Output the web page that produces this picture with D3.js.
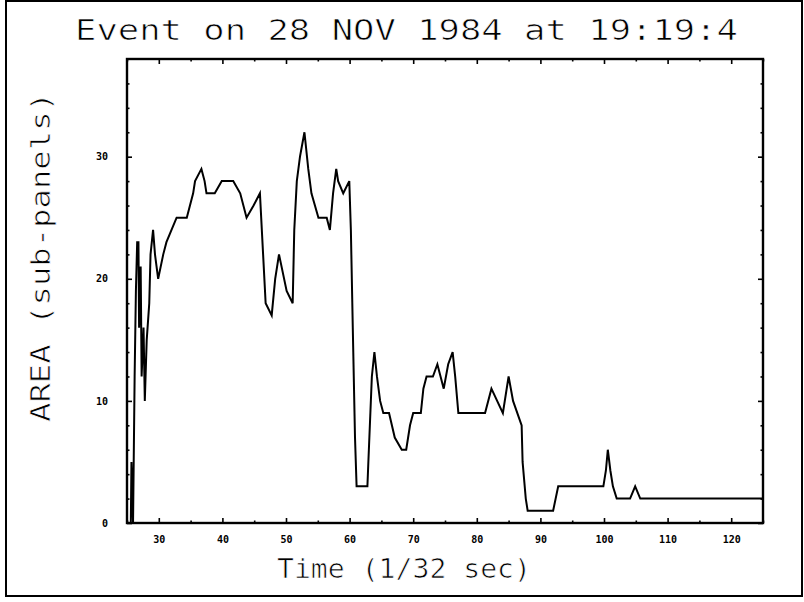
<!DOCTYPE html>
<html>
<head>
<meta charset="utf-8">
<script src="https://cdn.jsdelivr.net/npm/d3@7"></script>
<style>
  html, body { margin: 0; padding: 0; background: #fff; }
  svg { display: block; }
  text { font-family: "DejaVu Sans Mono", monospace; fill: #000; }
</style>
</head>
<body>
<script>
// ---- data ----
const times = [25.6, 25.7, 25.95, 26.2, 26.4, 26.6, 26.8, 26.9, 27.15, 27.3, 27.6, 27.8, 28.1, 28.5, 28.7, 29.1, 29.4, 29.9, 30.7, 31.2,
  32.0, 32.8, 34.4, 35.4, 35.7, 36.7, 37.2, 37.5, 38.8, 39.9, 41.7, 42.8, 43.8, 44.9, 45.9, 46.4, 46.8, 47.75, 48.3, 48.9,
  50.1, 51.05, 51.3, 51.7, 52.2, 52.9, 53.5, 54.0, 55.1, 56.4, 56.9, 57.4, 57.9, 58.2, 59.0, 59.95, 60.2, 60.5, 60.85, 61.1,
  62.8, 62.95, 63.5, 63.9, 64.3, 64.8, 65.3, 66.2, 67.1, 68.2, 68.9, 69.5, 70.0, 71.2, 71.6, 72.1, 73.1, 73.8, 74.8, 75.5,
  76.2, 76.6, 77.1, 81.3, 82.3, 84.1, 85.0, 85.7, 87.05, 87.2, 87.7, 88.0, 92.0, 92.8, 99.9, 100.3, 100.6, 101.0, 101.4, 102.0,
  104.1, 104.9, 105.7, 125.0];
const areas = [0, 5, 0, 12, 19, 23, 23, 16, 21, 12, 16, 10, 15, 18, 22, 24, 22, 20, 22, 23,
  24, 25, 25, 27, 28, 29, 28, 27, 27, 28, 28, 27, 25, 26, 27, 22, 18, 17, 20, 22,
  19, 18, 24, 28, 30, 32, 29, 27, 25, 25, 24, 27, 29, 28, 27, 28, 24, 16, 7, 3,
  3, 5, 12, 14, 12, 10, 9, 9, 7, 6, 6, 8, 9, 9, 11, 12, 12, 13, 11, 13,
  14, 12, 9, 9, 11, 9, 12, 10, 8, 5, 2, 1, 1, 3, 3, 4.3, 6, 4.3, 3, 2,
  2, 3, 2, 2];
const xMajorTicks = [30, 40, 50, 60, 70, 80, 90, 100, 110, 120];
const yMajorTicks = [0, 10, 20, 30];
const titleText = "Event on 28 NOV 1984 at 19:19:4";
const xLabelText = "Time (1/32 sec)";
const yLabelText = "AREA (sub-panels)";

// ---- layout ----
const W = 804, H = 602;
const plot = { left: 127, right: 763, top: 59, bottom: 523 };

const svg = d3.select("body").append("svg").attr("width", W).attr("height", H);

// outer frame
svg.append("rect").attr("x", 6).attr("y", 1).attr("width", 796).attr("height", 595)
  .attr("fill", "none").attr("stroke", "#000").attr("stroke-width", 2);

const x = d3.scaleLinear().domain([25, 125]).range([plot.left, plot.right]);
const y = d3.scaleLinear().domain([0, 38]).range([plot.bottom, plot.top]);

const xMinor = d3.range(25, 126, 5).filter(v => v % 10 !== 0);
const yMinor = d3.range(2, 38, 2).filter(v => v % 10 !== 0);

function styleAxis(g) {
  g.select(".domain").remove();
  g.selectAll("line").attr("stroke", "#000").attr("stroke-width", 1.6);
}
// bottom
svg.append("g").attr("transform", `translate(0,${plot.bottom})`)
  .call(d3.axisBottom(x).tickValues(xMajorTicks).tickSize(-5).tickPadding(13).tickFormat(d3.format("d")))
  .call(styleAxis)
  .call(g => g.selectAll("text").attr("font-family", "DejaVu Sans").attr("font-weight", "bold").attr("font-size", 10));
svg.append("g").attr("transform", `translate(0,${plot.bottom})`)
  .call(d3.axisBottom(x).tickValues(xMinor).tickSize(-2.5).tickFormat(""))
  .call(styleAxis);
// top
svg.append("g").attr("transform", `translate(0,${plot.top})`)
  .call(d3.axisTop(x).tickValues(xMajorTicks).tickSize(-5).tickFormat(""))
  .call(styleAxis);
svg.append("g").attr("transform", `translate(0,${plot.top})`)
  .call(d3.axisTop(x).tickValues(xMinor).tickSize(-2.5).tickFormat(""))
  .call(styleAxis);
// left
svg.append("g").attr("transform", `translate(${plot.left},0)`)
  .call(d3.axisLeft(y).tickValues(yMajorTicks).tickSize(-5).tickPadding(19).tickFormat(d3.format("d")))
  .call(styleAxis)
  .call(g => g.selectAll("text").attr("font-family", "DejaVu Sans").attr("font-weight", "bold").attr("font-size", 10));
svg.append("g").attr("transform", `translate(${plot.left},0)`)
  .call(d3.axisLeft(y).tickValues(yMinor).tickSize(-2.5).tickFormat(""))
  .call(styleAxis);
// right
svg.append("g").attr("transform", `translate(${plot.right},0)`)
  .call(d3.axisRight(y).tickValues(yMajorTicks).tickSize(-5).tickFormat(""))
  .call(styleAxis);
svg.append("g").attr("transform", `translate(${plot.right},0)`)
  .call(d3.axisRight(y).tickValues(yMinor).tickSize(-2.5).tickFormat(""))
  .call(styleAxis);

// plot frame
svg.append("rect").attr("x", plot.left).attr("y", plot.top)
  .attr("width", plot.right - plot.left).attr("height", plot.bottom - plot.top)
  .attr("fill", "none").attr("stroke", "#000").attr("stroke-width", 2.4);

// data line
const pts = times.map((t, i) => [t, areas[i]]);
const line = d3.line().x(d => x(d[0])).y(d => y(d[1]));
svg.append("path").datum(pts).attr("d", line)
  .attr("fill", "none").attr("stroke", "#000").attr("stroke-width", 2).attr("stroke-linejoin", "miter");

// thin-stroke look for the big labels (slight erosion of glyphs)
function thin(sel) {
  sel.attr("stroke", "#fff").attr("stroke-width", 0.7).attr("paint-order", "fill");
}

// title
svg.append("text").attr("x", 75).attr("y", 40)
  .attr("font-size", 29).attr("textLength", 663).attr("lengthAdjust", "spacingAndGlyphs")
  .text(titleText).call(thin);

// x label
svg.append("text").attr("x", 277).attr("y", 578)
  .attr("font-size", 26).attr("textLength", 254).attr("lengthAdjust", "spacingAndGlyphs")
  .text(xLabelText).call(thin);

// y label
svg.append("text").attr("transform", "translate(50,422) rotate(-90)")
  .attr("font-size", 26).attr("textLength", 330).attr("lengthAdjust", "spacingAndGlyphs")
  .text(yLabelText).call(thin);
</script>
</body>
</html>
